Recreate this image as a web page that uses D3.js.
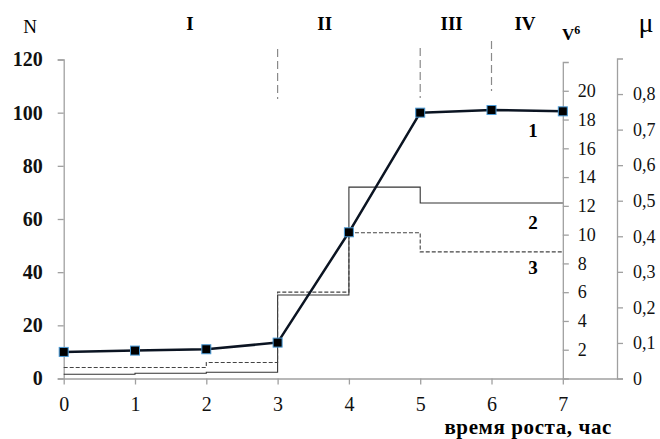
<!DOCTYPE html>
<html>
<head>
<meta charset="utf-8">
<script src="https://cdn.jsdelivr.net/npm/d3@7"></script>
<style>
	body { margin: 0; background: #fff; }
	svg text { font-family: "Liberation Serif", "Times New Roman", "DejaVu Serif", serif; }
	.axis path, .axis line { stroke: #a0a0a0; stroke-width: 1.3; }
	.axis text { fill: #111; }
</style>
</head>
<body>
<div id="chart"></div>
<script>
// growth time, hours
const hours = [0, 1, 2, 3, 4, 5, 6, 7];
// curve 1: N
const cellCount = [10, 10.5, 11, 13.5, 55, 100, 101, 100.5];
// curve 2: V (step), right axis V
const volume = [0.3, 0.36, 0.43, 5.8, 13.3, 12.2, 12.2, 12.2];
// curve 3: mu (step), far right axis
const rate = [0.031, 0.031, 0.045, 0.243, 0.41, 0.356, 0.356, 0.356];

const nTicks = [0, 20, 40, 60, 80, 100, 120];
const vTicks = [2, 4, 6, 8, 10, 12, 14, 16, 18, 20];
const muTicks = [0, 0.1, 0.2, 0.3, 0.4, 0.5, 0.6, 0.7, 0.8];
const phaseNames = ['I', 'II', 'III', 'IV'];
const phaseCenters = [1.77, 3.66, 5.44, 6.47];
const phaseBounds = [3, 5, 6];
const curveNames = ['1', '2', '3'];

const width = 660, height = 439;
const bottom = 378.5;
const serif = '"Liberation Serif", "Times New Roman", serif';

const svg = d3.select('#chart').append('svg')
	.attr('width', width)
	.attr('height', height);

const x = d3.scaleLinear([0, 7.76], [63.7, 617]);
const yN = d3.scaleLinear([0, 120], [bottom, 59.5]);
const yV = d3.scaleLinear([0, 22], [bottom, 62]);
const yMu = d3.scaleLinear([0, 0.9], [bottom, 58.5]);

// x axis
const gx = svg.append('g')
	.attr('class', 'axis')
	.attr('transform', 'translate(0,' + bottom + ')')
	.call(d3.axisBottom(x).tickValues(hours).tickSizeOuter(0).tickPadding(12));
gx.selectAll('text').style('font-size', '20px').style('font-family', serif);

// left axis N
const gn = svg.append('g')
	.attr('class', 'axis')
	.attr('transform', 'translate(' + x(0) + ',0)')
	.call(d3.axisLeft(yN).tickValues(nTicks).tickPadding(15));
gn.selectAll('text').style('font-size', '20px').style('font-weight', 'bold').style('font-family', serif);

// V axis
const gv = svg.append('g')
	.attr('class', 'axis')
	.attr('transform', 'translate(' + x(7) + ',0)')
	.call(d3.axisRight(yV).tickValues(vTicks).tickPadding(9));
gv.selectAll('text').style('font-size', '18px').style('font-family', serif);

// mu axis
const fmtMu = (d) => d === 0 ? '0' : d3.format('.1f')(d).replace('.', ',');
const gm = svg.append('g')
	.attr('class', 'axis')
	.attr('transform', 'translate(' + x(7.76) + ',0)')
	.call(d3.axisRight(yMu).tickValues(muTicks).tickFormat(fmtMu).tickPadding(10));
gm.selectAll('text').style('font-size', '18px').style('font-family', serif);

// phase boundaries
const boundTops = [49, 48, 41];
svg.selectAll('.bound')
	.data(phaseBounds)
	.enter().append('line')
	.attr('class', 'bound')
	.attr('x1', (d) => x(d))
	.attr('x2', (d) => x(d))
	.attr('y1', (d, i) => boundTops[i])
	.attr('y2', (d, i) => boundTops[i] + 50)
	.attr('stroke', '#8a8a8a')
	.attr('stroke-width', 1.2)
	.attr('stroke-dasharray', '8,4');

svg.selectAll('.phase')
	.data(phaseNames)
	.enter().append('text')
	.attr('class', 'phase')
	.attr('x', (d, i) => x(phaseCenters[i]))
	.attr('y', 30)
	.attr('text-anchor', 'middle')
	.style('font-size', '19px')
	.style('font-weight', 'bold')
	.text((d) => d);

// step curves
const step = (scale, vals) => d3.line()
	.x((d, i) => x(hours[i]))
	.y((d) => scale(d))
	.curve(d3.curveStepAfter)(vals);

svg.append('path')
	.attr('d', step(yV, volume))
	.attr('fill', 'none')
	.attr('stroke', '#333')
	.attr('stroke-width', 1.1);

svg.append('path')
	.attr('d', step(yMu, rate))
	.attr('fill', 'none')
	.attr('stroke', '#444')
	.attr('stroke-width', 1.1)
	.attr('stroke-dasharray', '4,2');

// curve 1
const line = d3.line()
	.x((d, i) => x(hours[i]))
	.y((d) => yN(d));
svg.append('path')
	.datum(cellCount)
	.attr('d', line)
	.attr('fill', 'none')
	.attr('stroke', '#0b1422')
	.attr('stroke-width', 2.5)
	.attr('stroke-linejoin', 'round');

svg.selectAll('.pt')
	.data(cellCount)
	.enter().append('rect')
	.attr('class', 'pt')
	.attr('x', (d, i) => x(hours[i]) - 4.5)
	.attr('y', (d) => yN(d) - 4.5)
	.attr('width', 9)
	.attr('height', 9)
	.attr('fill', '#000')
	.attr('stroke', '#4a9ad6')
	.attr('stroke-width', 1);

// curve numbers
const nameY = [130, 222, 267];
svg.selectAll('.cname')
	.data(curveNames)
	.enter().append('text')
	.attr('class', 'cname')
	.attr('x', 533)
	.attr('y', (d, i) => nameY[i])
	.attr('dy', '0.35em')
	.attr('text-anchor', 'middle')
	.style('font-size', '19px')
	.style('font-weight', 'bold')
	.text((d) => d);

// axis titles
svg.append('text')
	.attr('x', 30).attr('y', 33)
	.attr('text-anchor', 'middle')
	.style('font-size', '19px')
	.text('N');

const vt = svg.append('text')
	.attr('x', 562).attr('y', 40)
	.style('font-size', '17px')
	.style('font-weight', 'bold');
vt.append('tspan').text('V');
vt.append('tspan').attr('dy', -6).style('font-size', '12px').text('6');

svg.append('text')
	.attr('x', 646).attr('y', 32)
	.attr('text-anchor', 'middle')
	.style('font-size', '28px')
	.text('μ');

svg.append('text')
	.attr('x', 612).attr('y', 434)
	.attr('text-anchor', 'end')
	.style('font-size', '21px')
	.style('font-weight', 'bold')
	.style('letter-spacing', '0.6px')
	.text('время роста, час');
</script>
</body>
</html>
